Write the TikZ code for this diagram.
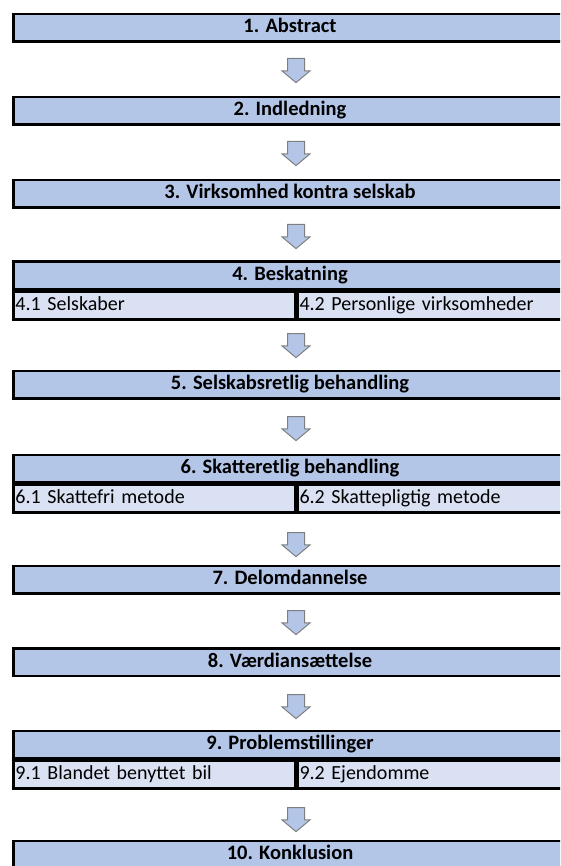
\documentclass[tikz,border=0pt]{standalone}
\usepackage{fontspec}
\setmainfont{Carlito}
\usetikzlibrary{
  positioning,
  shapes.arrows
}
\definecolor{headblue}{HTML}{B4C6E7}
\definecolor{subblue}{HTML}{D9E1F2}
\definecolor{arrowgray}{HTML}{7F7F7F}

\begin{document}
\begin{tikzpicture}[x=1pt, y=-1pt]

\tikzset{
  head/.style={
    draw=black,
    fill=headblue,
    line width=2.5pt,
    minimum width=553pt,
    minimum height=27.5pt,
    inner sep=0pt,
    text height=14pt,
    text depth=4pt,
    font=\fontsize{20.5}{24}\selectfont\bfseries
  },
  subl/.style={
    draw=black,
    fill=subblue,
    line width=2.5pt,
    anchor=north west,
    text width=277.5pt,
    minimum height=27.5pt,
    inner xsep=2pt,
    inner ysep=0pt,
    text height=14pt,
    text depth=4pt,
    align=left,
    font=\fontsize{20}{24}\selectfont
  },
  subr/.style={
    subl,
    text width=267pt
  },
  down/.style={
    single arrow,
    shape border rotate=270,
    draw=arrowgray,
    fill=headblue,
    line width=1pt,
    minimum height=20pt,
    inner sep=8pt,
    single arrow head extend=5.5pt,
    single arrow tip angle=100
  }
}

\useasboundingbox (0,0) rectangle (560,866);
\clip (0,0) rectangle (560,866);

% Nodes chapters
\node[head] (h1)  at (290, 28)    {1. Abstract};
\node[head] (h2)  at (290, 111)   {2. Indledning};
\node[head] (h3)  at (290, 194)   {3. Virksomhed kontra selskab};
\node[head] (h4)  at (290, 275.5) {4. Beskatning};
\node[head] (h5)  at (290, 384.5) {5. Selskabsretlig behandling};
\node[head] (h6)  at (290, 468.5) {6. Skatteretlig behandling};
\node[head] (h7)  at (290, 579.5) {7. Delomdannelse};
\node[head] (h8)  at (290, 662)   {8. Værdiansættelse};
\node[head] (h9)  at (290, 744.5) {9. Problemstillinger};
\node[head] (h10) at (290, 854.5) {10. Konklusion};

% Nodes sections
\node[subl] (s41) at (h4.south west) {4.1 Selskaber};
\node[subr] (s42) at (s41.north east) {4.2 Personlige virksomheder};
\node[subl] (s61) at (h6.south west) {6.1 Skattefri metode};
\node[subr] (s62) at (s61.north east) {6.2 Skattepligtig metode};
\node[subl] (s91) at (h9.south west) {9.1 Blandet benyttet bil};
\node[subr] (s92) at (s91.north east) {9.2 Ejendomme};

% Arrows
\node[down] (a1) at (296, 67)  {};
\node[down] (a2) at (296, 150) {};
\node[down] (a3) at (296, 233) {};
\node[down] (a4) at (296, 342) {};
\node[down] (a5) at (296, 425) {};
\node[down] (a6) at (296, 541) {};
\node[down] (a7) at (296, 619) {};
\node[down] (a8) at (296, 703) {};
\node[down] (a9) at (296, 816) {};

\end{tikzpicture}
\end{document}
